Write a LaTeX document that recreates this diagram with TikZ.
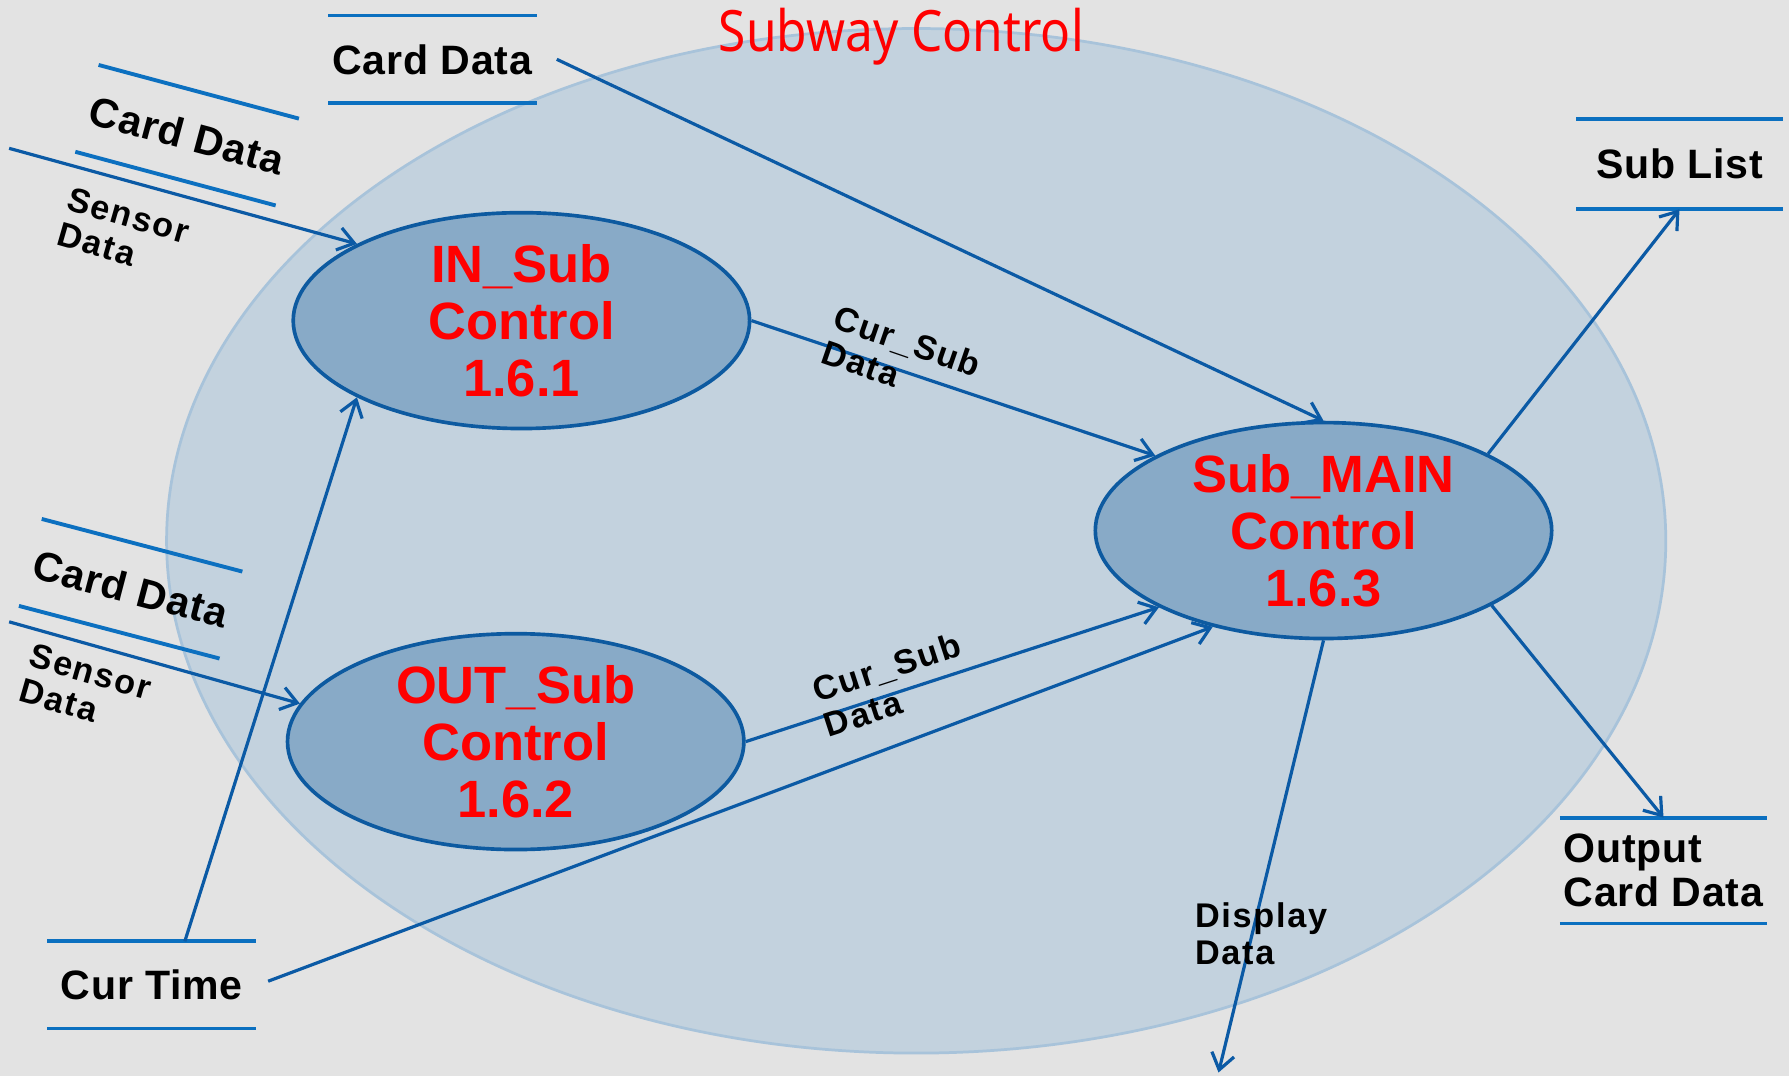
\documentclass[tikz,border=0pt]{standalone}
\usepackage{fontspec}
\usepackage{graphicx}
\setmainfont{Liberation Sans}
\newfontfamily\titlefont{Noto Sans}
\newfontfamily\storefont[LetterSpace=2]{Liberation Sans}
\newfontfamily\lblfont[LetterSpace=5]{Liberation Sans}
\usetikzlibrary{arrows.meta,shapes.geometric}
\definecolor{bgc}{HTML}{E3E3E3}
\definecolor{sysfill}{HTML}{C3D2DE}
\definecolor{sysline}{HTML}{A8C3DA}
\definecolor{procfill}{HTML}{88AAC7}
\definecolor{procline}{HTML}{0D5AA0}
\definecolor{flowc}{HTML}{0B5AA5}
\definecolor{storec}{HTML}{0C70C0}
\definecolor{redt}{HTML}{FF0000}
\begin{document}
\begin{tikzpicture}[x=0.5pt,y=-0.5pt,
 proc/.style={ellipse, draw=procline, line width=1.6pt, fill=procfill, minimum width=200pt, minimum height=90pt, inner sep=0pt, align=center, text=redt, font=\fontsize{23}{25}\selectfont\bfseries},
 store/.style={minimum width=91pt, minimum height=38pt, inner sep=0pt, align=left, font=\storefont\fontsize{18}{19.5}\selectfont\bfseries},
 storeline/.style={draw=storec, line width=1.7pt},
 flow/.style={draw=flowc, line width=1.4pt, -{Straight Barb[length=7pt,width=10pt]}},
 flowlabel/.style={font=\lblfont\fontsize{15}{16}\selectfont\bfseries, align=left, inner sep=0pt}
]
\fill[bgc] (0,0) rectangle (1568,943);
\useasboundingbox (0,0) rectangle (1568,943);
% system boundary
\node[ellipse, draw=sysline, line width=1.2pt, fill=sysfill, minimum width=657pt, minimum height=449pt, inner sep=0pt] (sys) at (803,474) {};
\node[text=redt, inner sep=0pt] (title) at (790,32) {\scalebox{0.87}[1]{\titlefont\fontsize{25}{28}\selectfont Subway Control}};
% processes
\node[proc] (in) at (457,281) {IN\_Sub\\Control\\1.6.1};
\node[proc] (out) at (452,650) {OUT\_Sub\\Control\\1.6.2};
\node[proc] (main) at (1160,465) {Sub\_MAIN\\Control\\1.6.3};
% stores
\node[store] (cdtop) at (379,52) {Card Data};
\node[store, minimum width=90.5pt, minimum height=39pt, rotate=-15] (cdin) at (164,118.5) {Card Data};
\node[store, minimum width=90.5pt, minimum height=39pt, rotate=-14.7] (cdout) at (114.5,516) {Card Data};
\node[store] (ct) at (133,863) {Cur Time};
\node[store, minimum width=90pt, minimum height=39pt] (sl) at (1472,144) {Sub List};
\node[store, minimum width=90.5pt, minimum height=46pt] (ocd) at (1458,763) {Output\\Card Data};
\foreach \s in {cdtop,cdin,cdout,ct,sl,ocd}
  \draw[storeline] (\s.north west) -- (\s.north east) (\s.south west) -- (\s.south east);
% free ends
\coordinate (s1) at (8,130);
\coordinate (s2) at (8,545);
\coordinate (cdtopout) at (488,52);
\coordinate (ctup) at (162,825);
\coordinate (ctout) at (235,860);
\coordinate (dispend) at (1068,940);
% flows
\draw[flow] (s1) -- (in.155);
\draw[flow] (s2) -- (out.170);
\draw[flow] (ctup) -- (in.205);
\draw[flow] (ctout) -- (main.221);
\draw[flow] (cdtopout) -- (main.north);
\draw[flow] (in.east) -- (main.156);
\draw[flow] (out.east) -- (main.205);
\draw[flow] (main.25) -- (sl.south);
\draw[flow] (main.336) -- (ocd.north);
\draw[flow] (main.south) -- (dispend);
% flow labels
\node[flowlabel, rotate=-16] (sd1) at (108,204) {Sensor\\Data};
\node[flowlabel, rotate=-16] (sd2) at (75,604) {Sensor\\Data};
\node[flowlabel, rotate=-19] (cs1) at (790,314) {Cur\_Sub\\Data};
\node[flowlabel, rotate=18] (cs2) at (782,600) {Cur\_Sub\\Data};
\node[flowlabel, anchor=north west] (dd) at (1047,791) {Display\\Data};
\end{tikzpicture}
\end{document}
